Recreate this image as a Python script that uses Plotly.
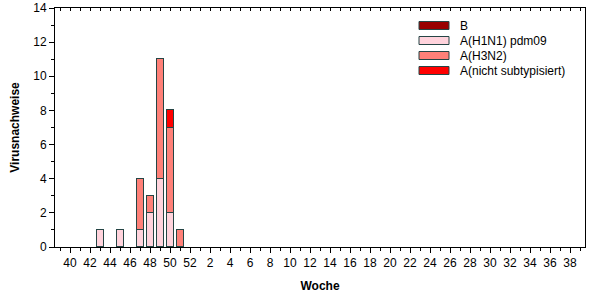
import plotly.graph_objects as go

# ---- data ----
weeks = [str(w) for w in list(range(40, 53)) + list(range(1, 40))]
series_names = ["B", "A(H1N1) pdm09", "A(H3N2)", "A(nicht subtypisiert)"]
series_colors = ["#990000", "#FFD3DC", "#FF8078", "#FF0000"]

b_vals = [0] * 52
h1n1_vals = [0, 0, 0, 1, 0, 1, 0, 1, 2, 4, 2, 0] + [0] * 40
h3n2_vals = [0, 0, 0, 0, 0, 0, 0, 3, 1, 7, 5, 1] + [0] * 40
nicht_vals = [0, 0, 0, 0, 0, 0, 0, 0, 0, 0, 1, 0] + [0] * 40

stack_order = [("A(H1N1) pdm09", h1n1_vals), ("A(H3N2)", h3n2_vals),
               ("A(nicht subtypisiert)", nicht_vals), ("B", b_vals)]

W, H = 602, 300
L, R, T, B = 55, 17, 8, 53
pw, ph = W - L - R, H - T - B
font = "Liberation Sans, Arial, sans-serif"
outline = "#254545"

idx = list(range(len(weeks)))
fig = go.Figure()
for name, vals in stack_order:
    col = series_colors[series_names.index(name)]
    fig.add_trace(go.Bar(x=idx, y=[v if v else None for v in vals], name=name, width=0.7,
                         marker=dict(color=col, line=dict(color=outline, width=1)),
                         showlegend=False))

tickvals = idx[::2]
ticktext = [weeks[i] for i in tickvals]

fig.update_layout(
    width=W, height=H, margin=dict(l=L, r=R, t=T, b=B, autoexpand=False),
    barmode="stack", bargap=0,
    plot_bgcolor="white", paper_bgcolor="white",
    font=dict(family=font, size=12, color="#000000"),
    xaxis=dict(range=[-1.5, 51.5], tickmode="array", tickvals=tickvals, ticktext=ticktext,
               ticks="outside", ticklen=5, tickcolor="black", tickwidth=1, automargin=False,
               minor=dict(dtick=1, tick0=0, ticks="outside", ticklen=3, tickcolor="black"),
               showline=True, linecolor="black", linewidth=1, showgrid=False, zeroline=False,
               title=dict(text="<b>Woche</b>", font=dict(size=12), standoff=12),
               tickfont=dict(size=12)),
    xaxis2=dict(range=[-1.5, 51.5], overlaying="x", side="top", matches="x", automargin=False,
                tickmode="linear", tick0=0, dtick=1, ticks="inside", ticklen=3,
                tickcolor="black", showticklabels=False, showline=True, linecolor="black",
                showgrid=False, zeroline=False),
    yaxis=dict(range=[0, 14], dtick=2, ticks="outside", ticklen=5, tickcolor="black",
               automargin=False,
               minor=dict(dtick=1, ticks="outside", ticklen=3, tickcolor="black"),
               showline=True, linecolor="black", linewidth=1, showgrid=False, zeroline=False,
               title=dict(text="<b>Virusnachweise</b>", font=dict(size=12), standoff=11),
               tickfont=dict(size=12)),
    yaxis2=dict(range=[0, 14], overlaying="y", side="right", showticklabels=False,
                automargin=False,
                ticks="", showline=True, linecolor="black", showgrid=False, zeroline=False),
)
# invisible trace to activate secondary axes
fig.add_trace(go.Scatter(x=[0], y=[0], xaxis="x2", yaxis="y2", mode="markers",
                         marker=dict(opacity=0), showlegend=False, hoverinfo="skip"))

# manual legend
leg_x0, leg_x1, leg_text_x = 419, 449, 458
leg_y = [25.5, 40.5, 55.5, 70.5]
def px(x): return (x - L) / pw
def py(y): return (H - B - y) / ph
for name, col, yc in zip(series_names, series_colors, leg_y):
    fig.add_shape(type="rect", xref="paper", yref="paper",
                  x0=px(leg_x0), x1=px(leg_x1), y0=py(yc + 4), y1=py(yc - 4),
                  fillcolor=col, line=dict(color=outline, width=1))
    fig.add_annotation(xref="paper", yref="paper", x=px(leg_text_x), y=py(yc),
                       text=name, showarrow=False, xanchor="left", yanchor="middle",
                       font=dict(size=12, color="black"))

fig.write_html("out.html")
